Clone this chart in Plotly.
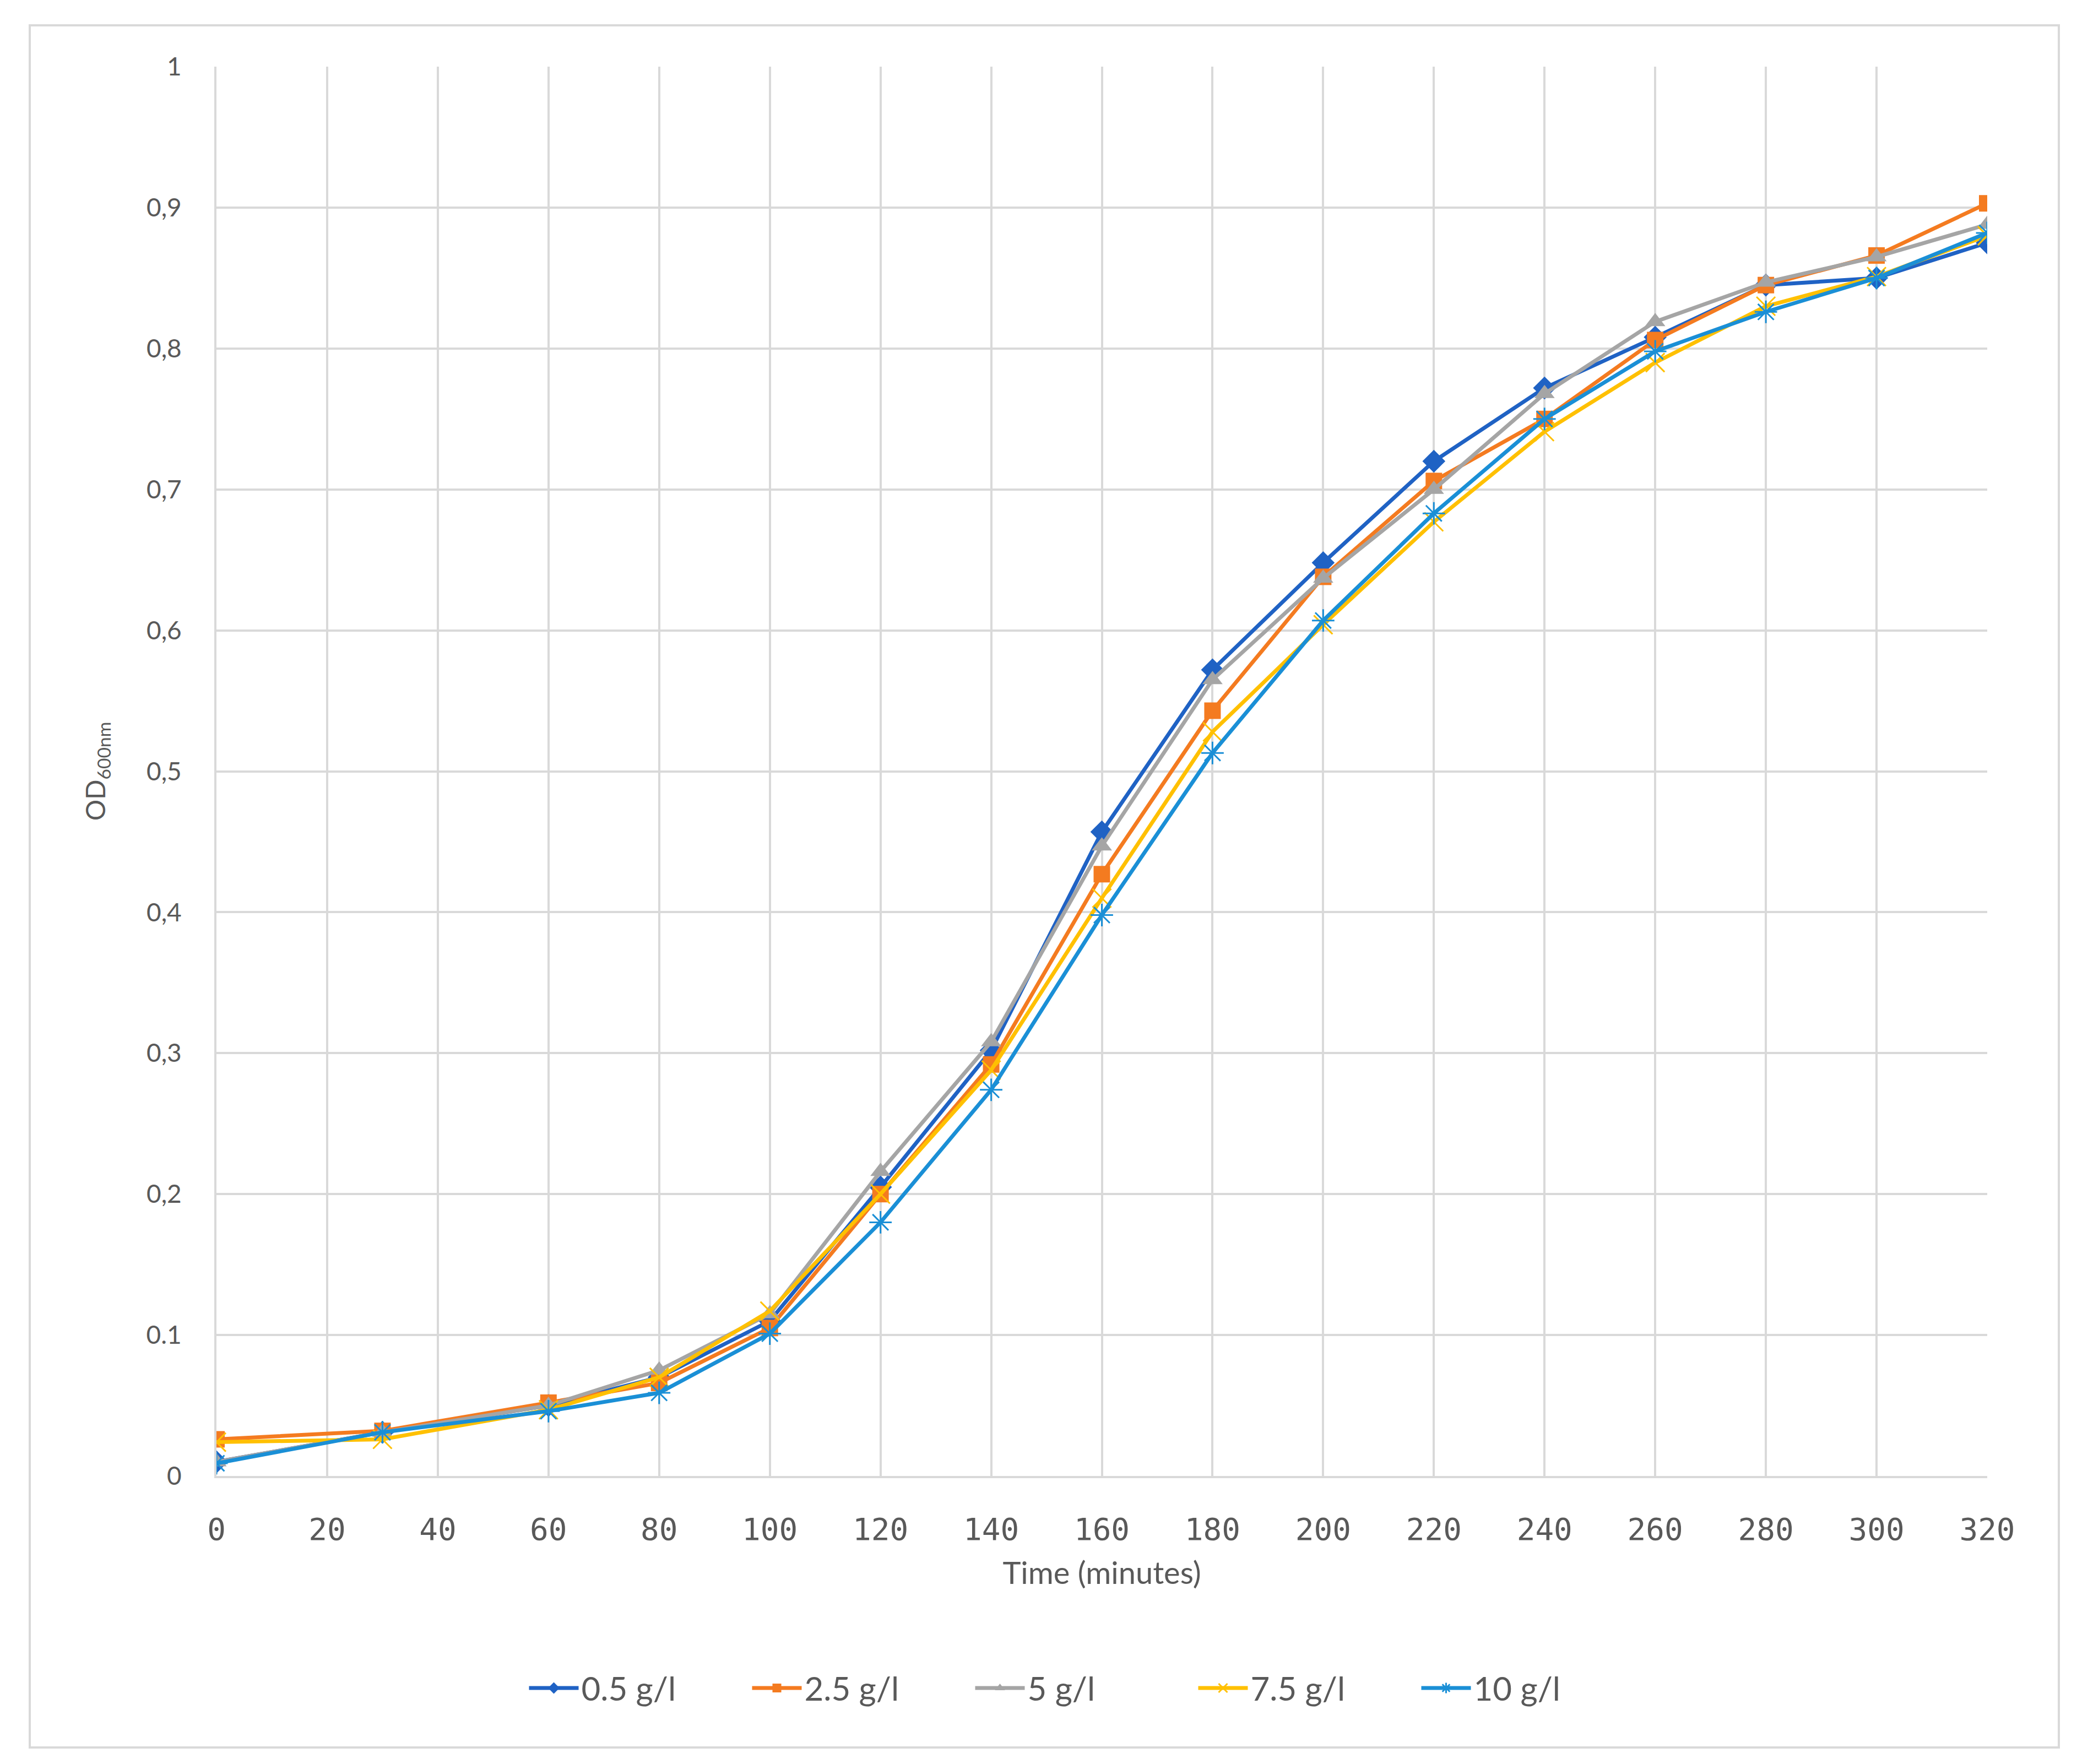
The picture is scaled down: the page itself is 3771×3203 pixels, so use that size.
import plotly.graph_objects as go

time_min = [0, 30, 60, 80, 100, 120, 140, 160, 180, 200, 220, 240, 260, 280, 300, 320]

od_05 = [0.010, 0.031, 0.050, 0.070, 0.110, 0.205, 0.302, 0.457, 0.572, 0.648, 0.720, 0.772, 0.808, 0.845, 0.850, 0.875]
od_25 = [0.026, 0.032, 0.052, 0.066, 0.105, 0.200, 0.292, 0.427, 0.543, 0.638, 0.706, 0.750, 0.806, 0.845, 0.866, 0.903]
od_5 = [0.010, 0.031, 0.050, 0.075, 0.115, 0.216, 0.308, 0.447, 0.565, 0.637, 0.700, 0.768, 0.819, 0.847, 0.865, 0.888]
od_75 = [0.024, 0.026, 0.047, 0.070, 0.117, 0.200, 0.288, 0.410, 0.528, 0.604, 0.677, 0.741, 0.790, 0.830, 0.851, 0.880]
od_10 = [0.009, 0.031, 0.046, 0.059, 0.101, 0.180, 0.274, 0.398, 0.513, 0.607, 0.683, 0.750, 0.798, 0.826, 0.850, 0.882]

series_names = ["0.5 g/l", "2.5 g/l", "5 g/l", "7.5 g/l", "10 g/l"]

x_tickvals = [0, 20, 40, 60, 80, 100, 120, 140, 160, 180, 200, 220, 240, 260, 280, 300, 320]
y_tickvals = [0, 0.1, 0.2, 0.3, 0.4, 0.5, 0.6, 0.7, 0.8, 0.9, 1.0]
y_ticktext = ["0", "0.1", "0,2", "0,3", "0,4", "0,5", "0,6", "0,7", "0,8", "0,9", "1"]

styles = [
    dict(color="#1F62C4", symbol="diamond", size=32, lw=0),
    dict(color="#F47B20", symbol="square", size=30, lw=0),
    dict(color="#A5A5A5", symbol="triangle-up", size=32, lw=0),
    dict(color="#FFC000", symbol="x-thin-open", size=34, lw=3),
    dict(color="#1A8FD6", symbol="asterisk-open", size=34, lw=3),
]

fig = go.Figure()
for name, vals, st in zip(series_names, [od_05, od_25, od_5, od_75, od_10], styles):
    fig.add_trace(go.Scatter(
        x=time_min, y=vals, name=name, mode="lines+markers",
        line=dict(color=st["color"], width=7),
        marker=dict(symbol=st["symbol"], size=st["size"], color=st["color"],
                    line=dict(color=st["color"], width=st["lw"])),
    ))

W, H = 3771, 3203
L, R, T, B = 385, 171, 113, 531
pw, ph = W - L - R, H - T - B

def px_to_paper_x(px):
    return (px - L) / pw

def px_to_paper_y(py):
    return (H - B - py) / ph

fig.update_layout(
    width=W, height=H,
    margin=dict(l=L, r=R, t=T, b=B, autoexpand=False),
    paper_bgcolor="white", plot_bgcolor="white",
    font=dict(family="Lato, Open Sans, sans-serif", color="#595959"),
    showlegend=True,
    legend=dict(orientation="h", xanchor="center", yanchor="middle",
                x=px_to_paper_x(1960), y=px_to_paper_y(3057),
                font=dict(size=60, color="#595959"),
                itemwidth=90, itemsizing="trace", tracegroupgap=0,
                entrywidth=300, entrywidthmode="pixels"),
    shapes=[dict(type="rect", xref="paper", yref="paper",
                 x0=px_to_paper_x(46), x1=px_to_paper_x(3730),
                 y0=px_to_paper_y(3165), y1=px_to_paper_y(38),
                 line=dict(color="#D9D9D9", width=4), layer="below")],
)

fig.update_xaxes(
    range=[0, 320], tickvals=x_tickvals, ticktext=[str(v) for v in x_tickvals],
    showgrid=True, gridcolor="#D9D9D9", gridwidth=4,
    zeroline=False, showline=True, linecolor="#D9D9D9", linewidth=4,
    ticks="", ticklabelstandoff=45,
    tickfont=dict(family="DejaVu Sans Mono, monospace", size=56, color="#595959"),
    title=dict(text="Time (minutes)", font=dict(size=56, color="#595959"), standoff=30),
)
fig.update_yaxes(
    range=[0, 1], tickvals=y_tickvals, ticktext=y_ticktext,
    showgrid=True, gridcolor="#D9D9D9", gridwidth=4,
    zeroline=False, showline=True, linecolor="#D9D9D9", linewidth=4, mirror=False,
    ticks="", ticklabelstandoff=50,
    tickfont=dict(size=46, color="#595959"),
    title=dict(text="OD<sub>600nm</sub>", font=dict(size=48, color="#595959"), standoff=60),
)

fig.write_html("out.html")
